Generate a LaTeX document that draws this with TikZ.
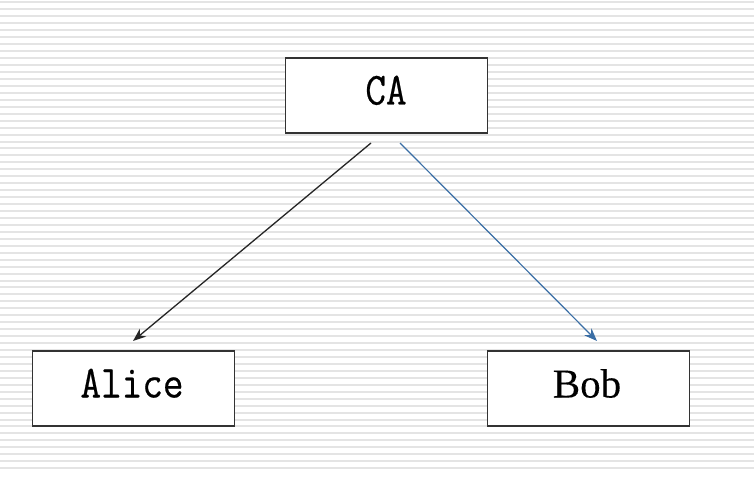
\documentclass[tikz,border=0pt]{standalone}
\usepackage{fontspec}
\newfontfamily\monof[FakeStretch=0.87,FakeBold=0.5]{Latin Modern Mono}
\newfontfamily\seriff[FakeBold=0.2]{Liberation Serif}
\definecolor{stripe}{HTML}{E4E4E4}
\definecolor{arrowblue}{HTML}{3A6EA5}
\usetikzlibrary{arrows.meta}
\begin{document}
\begin{tikzpicture}[x=1pt,y=-1pt,
  box/.style={draw=black!80,line width=1.3pt,fill=white,minimum width=202pt,minimum height=75pt,inner sep=0pt},
  lbl/.style={inner sep=0pt,anchor=base},
  link/.style={line width=1.3pt,-{Stealth[length=13pt,width=10pt]}}]
\useasboundingbox (0,0) rectangle (754,476);
\fill[white] (0,0) rectangle (754,476);
\foreach \i in {0,...,67} {
  \fill[stripe] (0,{1.5+\i*6.95}) rectangle (754,{3.5+\i*6.95});
}
\node[box] (ca) at (386.5,95.5) {};
\node[box] (alice) at (133.5,388.5) {};
\node[box] (bob) at (588.5,388.5) {};
\node[lbl] (catext) at (386,104.5) {\monof\fontsize{46}{50}\selectfont CA};
\node[lbl] (alicetext) at (132,397.5) {\monof\fontsize{46}{50}\selectfont Alice};
\node[lbl] (bobtext) at (587,397.5) {\seriff\fontsize{41}{46}\selectfont Bob};
\coordinate (s1) at (371,143);
\coordinate (s2) at (400,143);
\coordinate (e1) at (133,341);
\coordinate (e2) at (597,341);
\draw[link,black!85] (s1) -- (e1);
\draw[link,arrowblue,line width=1.2pt] (s2) -- (e2);
\end{tikzpicture}
\end{document}
